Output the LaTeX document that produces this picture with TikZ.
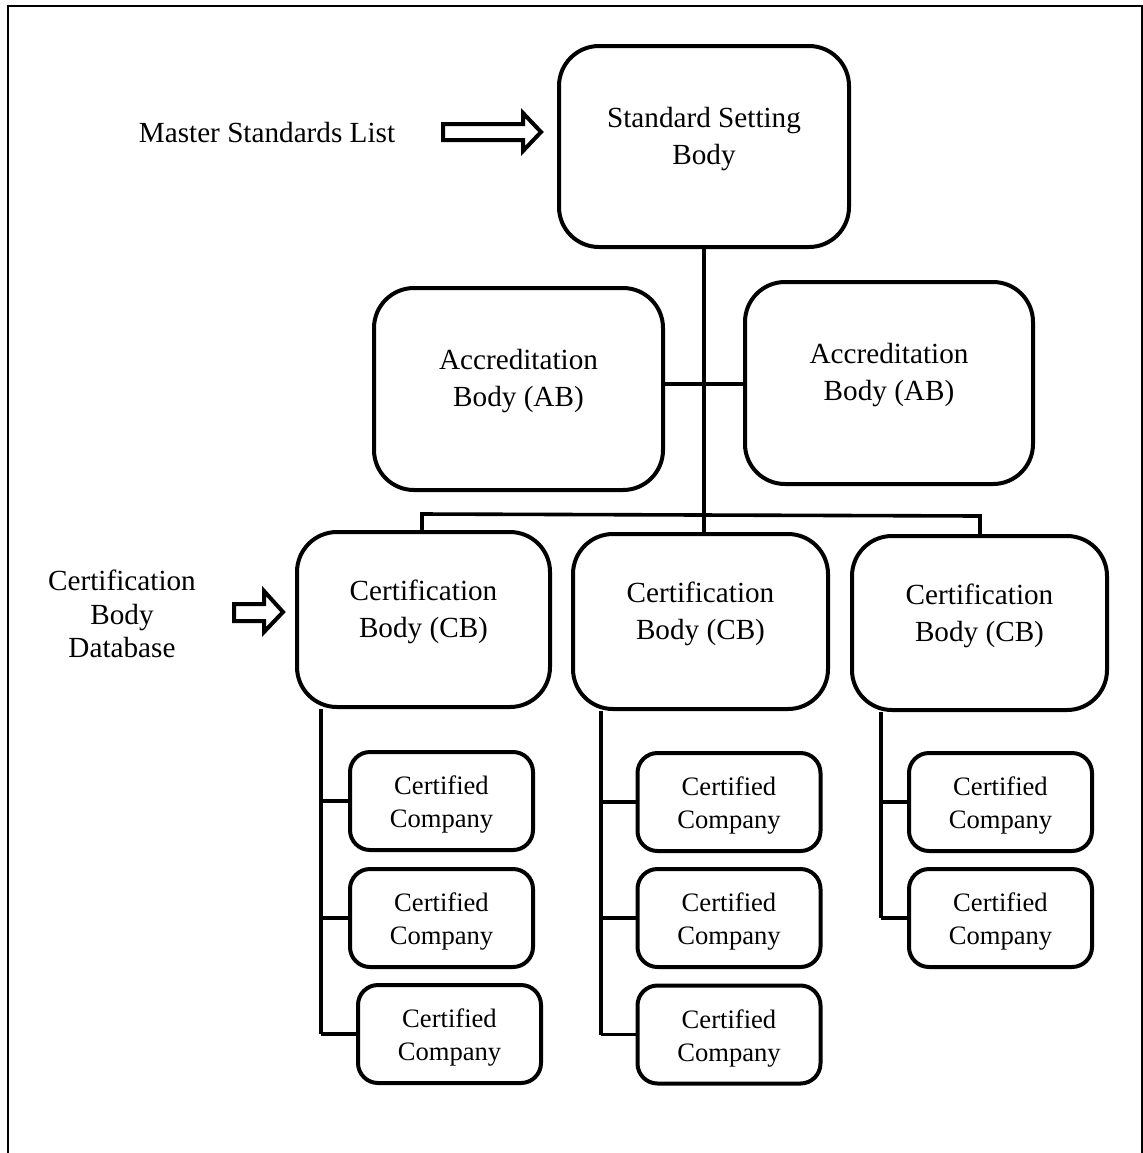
\documentclass[tikz,border=0pt]{standalone}
\usepackage{fontspec}
\setmainfont{Liberation Serif}
\begin{document}
\begin{tikzpicture}[x=0.5pt,y=-0.5pt,
  bigbox/.style={draw,line width=2pt,rounded corners=20pt,inner sep=0pt},
  smallbox/.style={draw,line width=2pt,rounded corners=10pt,inner sep=0pt,minimum width=91.5pt,minimum height=49pt},
  txt/.style={font=\fontsize{14.6}{18.5}\selectfont,align=center,inner sep=0pt},
  smalltxt/.style={font=\fontsize{13.3}{16.5}\selectfont,align=center,inner sep=0pt},
  sidetxt/.style={font=\fontsize{14.6}{16.8}\selectfont,align=center,inner sep=0pt},
  link/.style={line width=1.8pt},
  fat/.style={draw,line width=2pt,line join=miter}]
\useasboundingbox (0,0) rectangle (1143,1153);
% frame
\draw[line width=1pt] (8,1160) -- (8,6) -- (1142,6) -- (1142,1160);
% big boxes
\node[bigbox,minimum width=145pt,minimum height=100.5pt] (ssb) at (704,146.5) {};
\node[bigbox,minimum width=144.5pt,minimum height=101pt] (abl) at (518.5,389) {};
\node[bigbox,minimum width=144pt,minimum height=101pt] (abr) at (889,383) {};
\node[bigbox,minimum width=126.5pt,minimum height=87.5pt] (cb1) at (423.5,619.5) {};
\node[bigbox,minimum width=127.5pt,minimum height=87.5pt] (cb2) at (700.5,621.5) {};
\node[bigbox,minimum width=127.5pt,minimum height=87pt] (cb3) at (979.5,623) {};
% texts of big boxes
\node[txt] (ssbT) at ([yshift=3.9pt]ssb.center) {Standard Setting\\Body};
\node[txt] (ablT) at ([yshift=4pt]abl.center) {Accreditation\\Body (AB)};
\node[txt] (abrT) at ([yshift=4pt]abr.center) {Accreditation\\Body (AB)};
\node[txt] (cb1T) at ([yshift=3.7pt]cb1.center) {Certification\\Body (CB)};
\node[txt] (cb2T) at ([yshift=3.7pt]cb2.center) {Certification\\Body (CB)};
\node[txt] (cb3T) at ([yshift=3.7pt]cb3.center) {Certification\\Body (CB)};
% small boxes
\node[smallbox] (c11) at (441.5,801) {};
\node[smallbox] (c12) at (441.5,918) {};
\node[smallbox] (c13) at (449.5,1034) {};
\node[smallbox] (c21) at (729,802) {};
\node[smallbox] (c22) at (729,918) {};
\node[smallbox] (c23) at (729,1034.5) {};
\node[smallbox] (c31) at (1000.5,802) {};
\node[smallbox] (c32) at (1000.5,918) {};
\foreach \n in {c11,c12,c13,c21,c22,c23,c31,c32}{
  \node[smalltxt] (\n T) at ([yshift=-1.75pt]\n.center) {Certified\\Company};
}
% side texts
\node[txt] (msl) at (267,133) {Master Standards List};
\node[sidetxt] (cbd) at (122,614) {Certification\\Body\\Database};
% block arrows
\draw[fat] (443,124) -- (523,124) -- (523,113) -- (541,132) -- (523,151) -- (523,140) -- (443,140) -- cycle;
\draw[fat] (234,604) -- (264,604) -- (264,591) -- (283,612) -- (264,632) -- (264,621) -- (234,621) -- cycle;
% connectors
\coordinate (hub) at (704,384);
\draw[link] (ssb.south) -- (ssb.south |- cb2.north);
\draw[link] (hub -| abl.east) -- (hub -| abr.west);
\coordinate (busl) at (422,514);
\coordinate (busr) at (980,516);
\draw[link] (busl |- cb1.north) -- (busl) -- (busr) -- (busr |- cb3.north);
% column 1
\coordinate (t1) at (321,0);
\draw[link] (t1 |- cb1.south) -- (t1 |- c13.west);
\draw[link] (t1 |- c11.west) -- (c11.west);
\draw[link] (t1 |- c12.west) -- (c12.west);
\draw[link] (t1 |- c13.west) -- (c13.west);
% column 2
\coordinate (t2) at (601,0);
\draw[link] (t2 |- cb2.south) -- (t2 |- c23.west);
\draw[link] (t2 |- c21.west) -- (c21.west);
\draw[link] (t2 |- c22.west) -- (c22.west);
\draw[link] (t2 |- c23.west) -- (c23.west);
% column 3
\coordinate (t3) at (881,0);
\draw[link] (t3 |- cb3.south) -- (t3 |- c32.west);
\draw[link] (t3 |- c31.west) -- (c31.west);
\draw[link] (t3 |- c32.west) -- (c32.west);
\end{tikzpicture}
\end{document}
